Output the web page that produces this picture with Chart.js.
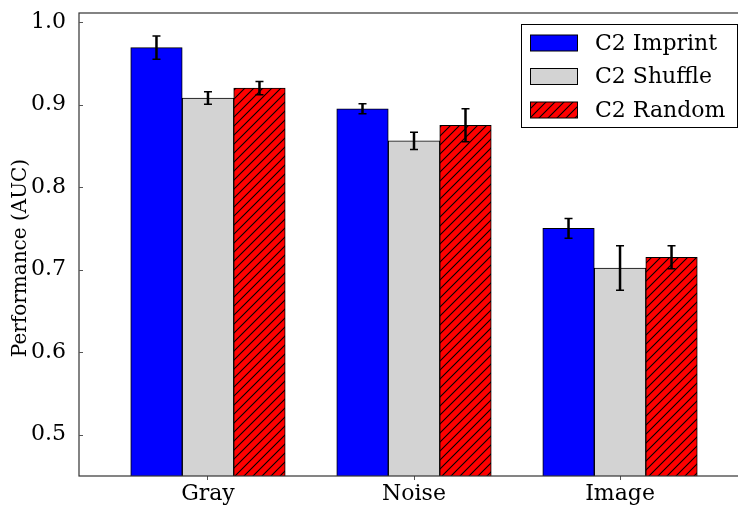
<!DOCTYPE html>
<html lang="en">
    <head>
        <meta charset="UTF-8" />
        <title>Performance (AUC)</title>
        <script src="https://cdn.jsdelivr.net/npm/chart.js@4.4.0/dist/chart.umd.min.js"></script>
        <style>
            html, body { margin: 0; padding: 0; background: #fff; overflow: hidden; }
        </style>
    </head>
    <body>
        <canvas id="chart" width="750" height="508"></canvas>
        <script>

        const categories = ['Gray', 'Noise', 'Image'];
        const seriesNames = ['C2 Imprint', 'C2 Shuffle', 'C2 Random'];
        const imprint = [0.969, 0.895, 0.750];
        const shuffle = [0.908, 0.856, 0.702];
        const random = [0.920, 0.875, 0.715];
        const imprintErr = [0.014, 0.006, 0.012];
        const shuffleErr = [0.0075, 0.0105, 0.027];
        const randomErr = [0.008, 0.020, 0.014];
        const yTicks = [0.5, 0.6, 0.7, 0.8, 0.9, 1.0];

        const FONT = 'DejaVu Serif';

        // red with black "///" hatching
        function hatch() {
            const n = 9;
            const c = document.createElement('canvas');
            c.width = n; c.height = n;
            const g = c.getContext('2d');
            g.fillStyle = '#ff0000';
            g.fillRect(0, 0, n, n);
            g.strokeStyle = '#000';
            g.lineWidth = 1.1;
            g.beginPath();
            g.moveTo(0, n); g.lineTo(n, 0);
            g.moveTo(-n / 2, n / 2); g.lineTo(n / 2, -n / 2);
            g.moveTo(n / 2, n * 1.5); g.lineTo(n * 1.5, n / 2);
            g.stroke();
            return g.createPattern(c, 'repeat');
        }

        const ctx = document.getElementById('chart').getContext('2d');
        const redHatch = hatch();

        const toXY = arr => arr.map((v, i) => ({ x: i, y: v }));

        const errors = [imprintErr, shuffleErr, randomErr];

        const extras = {
            id: 'extras',
            afterDatasetsDraw(chart) {
                const c = chart.ctx;
                const y = chart.scales.y;
                const a = chart.chartArea;
                c.save();
                // error bars
                c.strokeStyle = '#000';
                chart.data.datasets.forEach((ds, di) => {
                    const meta = chart.getDatasetMeta(di);
                    meta.data.forEach((bar, i) => {
                        const v = ds.data[i].y, e = errors[di][i];
                        const top = y.getPixelForValue(v + e), bot = y.getPixelForValue(v - e);
                        c.lineWidth = 2.5;
                        c.beginPath(); c.moveTo(bar.x, top); c.lineTo(bar.x, bot); c.stroke();
                        c.lineWidth = 1.5;
                        c.beginPath();
                        c.moveTo(bar.x - 4, top); c.lineTo(bar.x + 4, top);
                        c.moveTo(bar.x - 4, bot); c.lineTo(bar.x + 4, bot);
                        c.stroke();
                    });
                });
                // frame
                c.strokeStyle = '#333';
                c.lineWidth = 1.2;
                c.strokeRect(a.left, a.top, a.right - a.left, a.bottom - a.top);
                // inward y ticks
                c.strokeStyle = '#555';
                c.lineWidth = 1;
                yTicks.forEach(t => {
                    const p = Math.round(y.getPixelForValue(t)) + 0.5;
                    c.beginPath(); c.moveTo(a.left, p); c.lineTo(a.left + 4, p); c.stroke();
                });
                // y title
                c.fillStyle = '#000';
                c.font = '20px "' + FONT + '"';
                c.textAlign = 'center';
                c.textBaseline = 'middle';
                c.translate(21, 258);
                c.rotate(-Math.PI / 2);
                c.fillText('Performance (AUC)', 0, 0);
                c.restore();

                // legend
                c.save();
                c.fillStyle = '#fff';
                c.fillRect(521.5, 24.5, 216, 103);
                c.strokeStyle = '#000';
                c.lineWidth = 1;
                c.strokeRect(521.5, 24.5, 216, 103);
                const rows = [43, 76.5, 110];
                chart.data.datasets.forEach((ds, di) => {
                    const cy = rows[di];
                    c.fillStyle = ds.backgroundColor;
                    c.fillRect(530.5, cy - 8, 47, 16);
                    c.strokeStyle = '#000';
                    c.strokeRect(530.5, cy - 8, 47, 16);
                    c.fillStyle = '#000';
                    c.font = '22px "' + FONT + '"';
                    c.textAlign = 'left';
                    c.textBaseline = 'middle';
                    c.fillText(ds.label, 595, cy + 1);
                });
                c.restore();
            }
        };

        const myChart = new Chart(ctx, {
            type: 'bar',
            data: {
                datasets: [
                    { label: seriesNames[0], data: toXY(imprint), backgroundColor: '#0000ff' },
                    { label: seriesNames[1], data: toXY(shuffle), backgroundColor: '#d3d3d3' },
                    { label: seriesNames[2], data: toXY(random), backgroundColor: redHatch }
                ]
            },
            options: {
                responsive: false,
                animation: false,
                layout: { padding: { left: 0, top: 13, right: 1, bottom: 0 } },
                datasets: {
                    bar: { barThickness: 51.5, borderColor: '#000', borderWidth: 1 }
                },
                plugins: {
                    legend: { display: false },
                    tooltip: { enabled: false }
                },
                scales: {
                    x: {
                        type: 'linear',
                        min: -0.626,
                        max: 2.626,
                        offset: false,
                        afterBuildTicks: s => { s.ticks = categories.map((c, i) => ({ value: i })); },
                        afterFit: s => { s.height = 32; s.paddingLeft = 0; s.paddingRight = 0; },
                        border: { display: false },
                        grid: { offset: false, drawOnChartArea: false, drawTicks: true, tickLength: 4, color: '#555' },
                        ticks: {
                            padding: 1,
                            color: '#000',
                            font: { family: FONT, size: 22 },
                            callback: v => categories[v]
                        }
                    },
                    y: {
                        min: 0.45,
                        max: 1.011,
                        afterBuildTicks: s => { s.ticks = yTicks.map(v => ({ value: v })); },
                        afterFit: s => { s.width = 79; s.paddingTop = 0; s.paddingBottom = 0; },
                        border: { display: false },
                        grid: { display: false },
                        ticks: {
                            padding: 5,
                            color: '#000',
                            font: { family: FONT, size: 22 },
                            callback: v => v.toFixed(1)
                        }
                    }
                }
            },
            plugins: [extras]
        });

        </script>
    </body>
</html>
